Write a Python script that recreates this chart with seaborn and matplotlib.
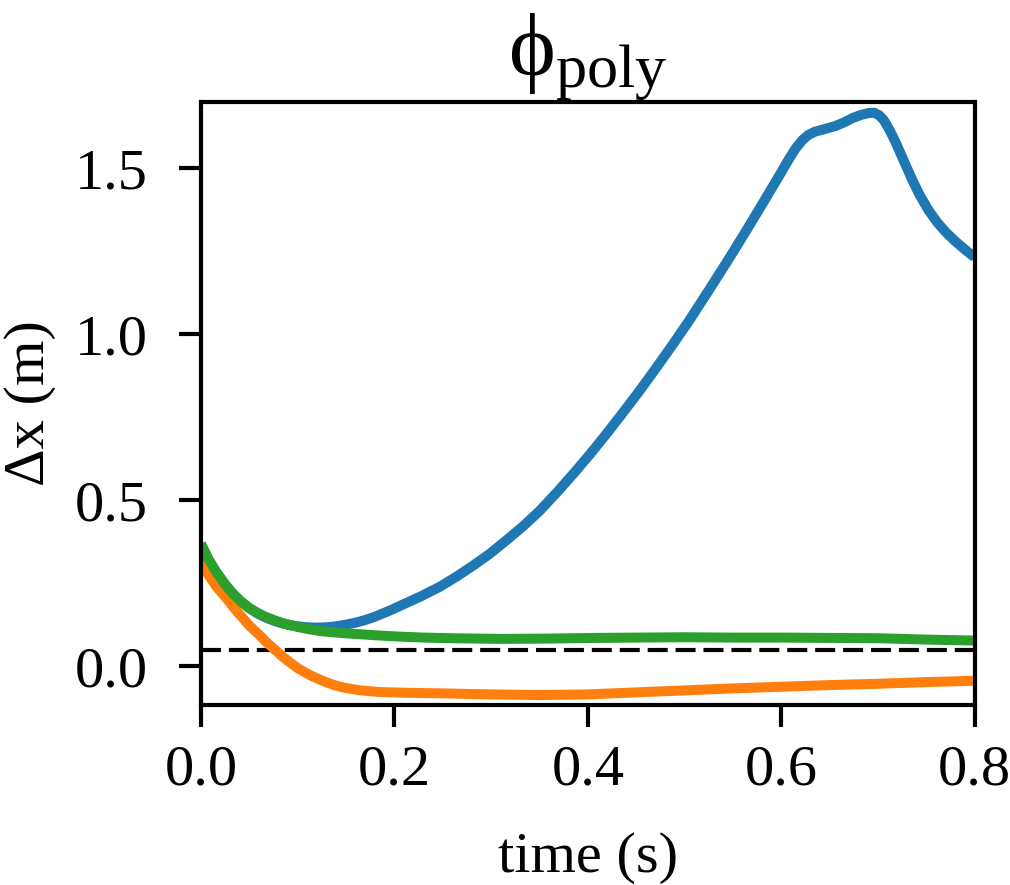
import numpy as np
import pandas as pd
import seaborn as sns
import matplotlib
matplotlib.use("Agg")
import matplotlib.pyplot as plt

# values
blue_t = [0.0, 0.008, 0.016, 0.025, 0.033, 0.042, 0.05, 0.06, 0.068, 0.077, 0.085, 0.093,
          0.1, 0.11, 0.12, 0.13, 0.14, 0.15, 0.16, 0.17, 0.18, 0.195, 0.21, 0.228, 0.247,
          0.265, 0.282, 0.298, 0.315, 0.333, 0.35, 0.368, 0.385, 0.402, 0.42, 0.436,
          0.453, 0.47, 0.488, 0.505, 0.525, 0.546, 0.564, 0.582, 0.598, 0.607, 0.615,
          0.622, 0.628, 0.635, 0.645, 0.656, 0.665, 0.673, 0.682, 0.69, 0.696, 0.701,
          0.706, 0.712, 0.718, 0.726, 0.735, 0.743, 0.752, 0.761, 0.77, 0.78, 0.79, 0.8]
blue_dx = [0.36, 0.318, 0.282, 0.247, 0.219, 0.194, 0.175, 0.157, 0.146, 0.136, 0.129,
           0.124, 0.121, 0.118, 0.117, 0.118, 0.121, 0.126, 0.132, 0.14, 0.15, 0.168,
           0.188, 0.212, 0.24, 0.272, 0.305, 0.338, 0.378, 0.422, 0.468, 0.524, 0.58,
           0.638, 0.703, 0.763, 0.828, 0.896, 0.97, 1.042, 1.132, 1.228, 1.313, 1.4,
           1.478, 1.523, 1.56, 1.585, 1.6, 1.61, 1.618, 1.627, 1.638, 1.65, 1.66, 1.666,
           1.667, 1.66, 1.645, 1.615, 1.58, 1.527, 1.468, 1.42, 1.375, 1.338, 1.308,
           1.28, 1.255, 1.232]

orange_t = [0.0, 0.008, 0.016, 0.025, 0.033, 0.042, 0.05, 0.06, 0.068, 0.077, 0.085, 0.093,
            0.1, 0.11, 0.12, 0.13, 0.14, 0.15, 0.165, 0.185, 0.21, 0.25, 0.3, 0.35, 0.4,
            0.45, 0.5, 0.55, 0.6, 0.65, 0.7, 0.75, 0.8]
orange_dx = [0.31, 0.275, 0.24, 0.21, 0.18, 0.15, 0.123, 0.096, 0.072, 0.049, 0.028, 0.01,
             -0.005, -0.022, -0.036, -0.048, -0.058, -0.065, -0.072, -0.077, -0.079, -0.081,
             -0.084, -0.086, -0.084, -0.078, -0.072, -0.066, -0.061, -0.056, -0.052, -0.047,
             -0.043]

green_t = [0.0, 0.008, 0.016, 0.025, 0.033, 0.042, 0.05, 0.06, 0.068, 0.077, 0.085, 0.093,
           0.1, 0.11, 0.125, 0.14, 0.154, 0.18, 0.205, 0.23, 0.26, 0.31, 0.36, 0.41, 0.45,
           0.5, 0.55, 0.6, 0.65, 0.7, 0.75, 0.8]
green_dx = [0.37, 0.322, 0.284, 0.247, 0.219, 0.194, 0.176, 0.159, 0.148, 0.138, 0.13,
            0.124, 0.119, 0.113, 0.106, 0.102, 0.099, 0.094, 0.09, 0.087, 0.085, 0.083,
            0.084, 0.086, 0.087, 0.088, 0.087, 0.087, 0.086, 0.085, 0.081, 0.078]

threshold = 0.05

x_ticks = [0.0, 0.2, 0.4, 0.6, 0.8]
y_ticks = [0.0, 0.5, 1.0, 1.5]

df = pd.concat([
    pd.DataFrame({"time": blue_t, "dx": blue_dx, "run": "a"}),
    pd.DataFrame({"time": orange_t, "dx": orange_dx, "run": "b"}),
    pd.DataFrame({"time": green_t, "dx": green_dx, "run": "c"}),
], ignore_index=True)

sns.set_theme(style="ticks")
plt.rcParams["font.family"] = ["Liberation Serif", "DejaVu Serif"]
plt.rcParams["mathtext.fontset"] = "custom"
plt.rcParams["mathtext.rm"] = "Liberation Serif"
plt.rcParams["mathtext.it"] = "Liberation Serif:italic"
for key in ["text.color", "axes.labelcolor", "xtick.color", "ytick.color"]:
    plt.rcParams[key] = "black"

fig = plt.figure(figsize=(10.1, 8.85), dpi=100)
ax = fig.add_axes([0.199, 0.203, 0.766, 0.682])

palette = ["#1f77b4", "#ff7f0e", "#2ca02c"]
sns.lineplot(data=df, x="time", y="dx", hue="run", palette=palette, estimator=None,
             sort=False, linewidth=7.2, legend=False, ax=ax)
for line in ax.get_lines():
    line.set_solid_capstyle("butt")
    line.set_solid_joinstyle("round")

ax.axhline(threshold, color="black", linewidth=3, dashes=(4.8, 1.9), zorder=1)

ax.set_xlim(0, 0.8)
ax.set_ylim(-0.117, 1.70)
ax.set_xticks(x_ticks)
ax.set_yticks(y_ticks)
ax.set_xticklabels([f"{v:.1f}" for v in x_ticks])
ax.set_yticklabels([f"{v:.1f}" for v in y_ticks])

for spine in ax.spines.values():
    spine.set_linewidth(3)
    spine.set_color("black")
ax.tick_params(axis="both", length=16, width=3, labelsize=42, direction="out")
ax.tick_params(axis="x", pad=12)
ax.tick_params(axis="y", pad=22)

ax.set_xlabel("time (s)", fontsize=42, labelpad=26)
ax.set_ylabel("Δx (m)", fontsize=42, labelpad=14)
ax.set_title(r"$\mathrm{\phi}_{\mathrm{poly}}$", fontsize=64, pad=14)

fig.savefig("out.png", dpi=100)
